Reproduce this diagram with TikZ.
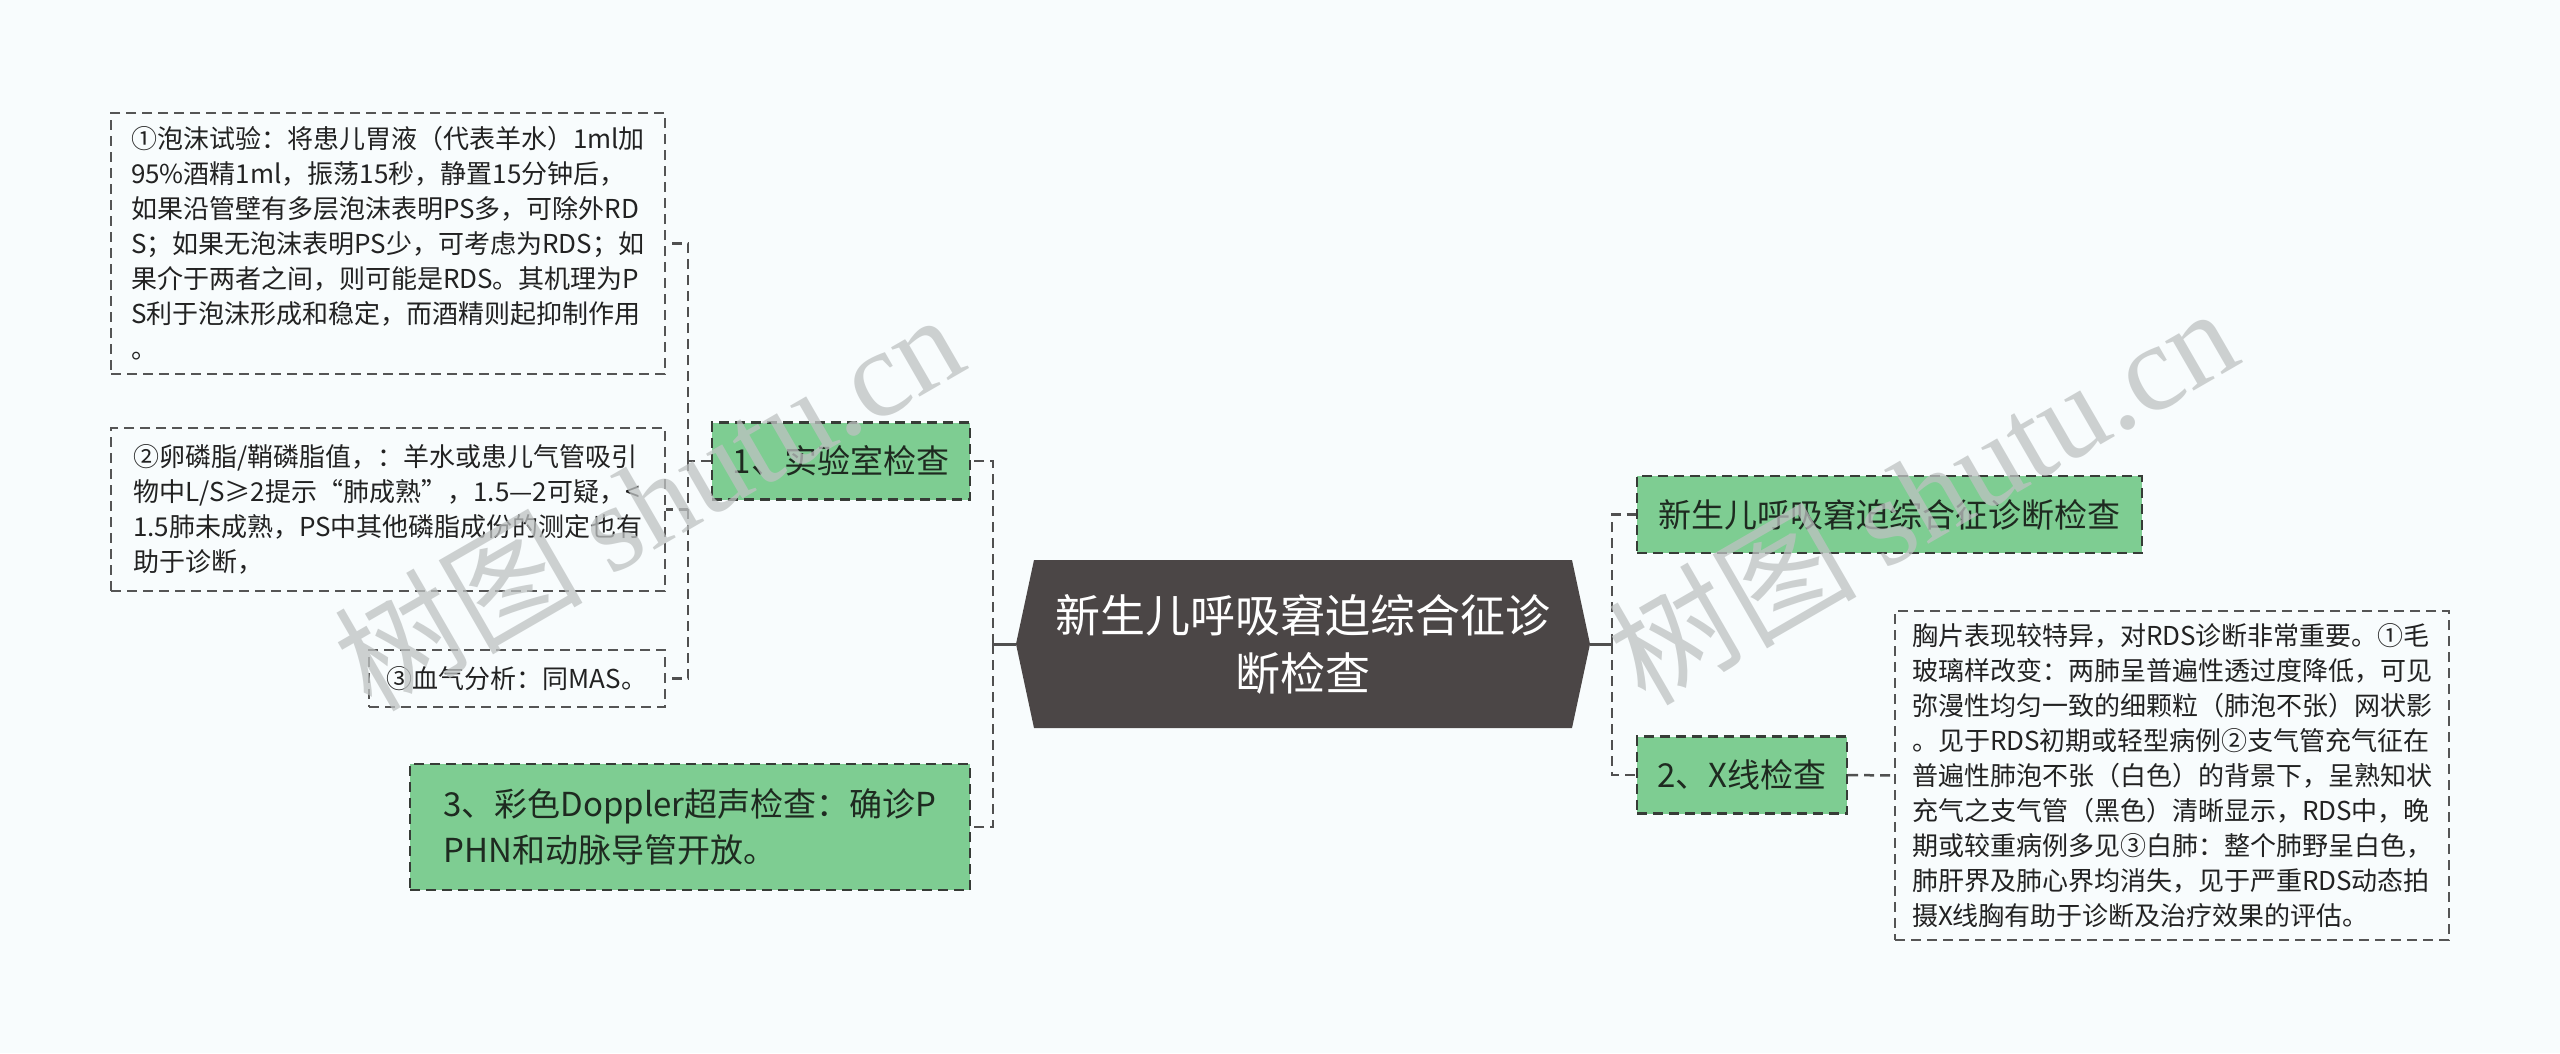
\documentclass[tikz,border=0pt]{standalone}
\usepackage{fontspec}
\setmainfont{Noto Sans CJK SC}
\newfontfamily\wmserif{Liberation Serif}
\usetikzlibrary{calc}
\definecolor{bgc}{RGB}{248,252,253}
\definecolor{gfill}{RGB}{126,205,146}
\definecolor{gborder}{RGB}{55,60,55}
\definecolor{gtext}{RGB}{30,42,32}
\definecolor{dborder}{RGB}{85,85,85}
\definecolor{dtext}{RGB}{34,34,34}
\definecolor{lcolor}{RGB}{80,80,80}
\definecolor{cfill}{RGB}{75,70,70}
\definecolor{wm}{RGB}{190,194,194}
\begin{document}
\begin{tikzpicture}[x=1pt,y=-1pt,
  greennode/.style={draw=gborder, fill=gfill, line width=2.2pt, dash pattern=on 10pt off 6pt,
    inner sep=0pt, minimum height=77pt, font=\fontsize{33}{46}\selectfont, text=gtext, align=left},
  detail/.style={draw=dborder, line width=2pt, dash pattern=on 10pt off 6pt,
    inner sep=0pt, font=\fontsize{26}{35}\selectfont, text=dtext, align=left},
  link/.style={draw=lcolor, line width=2.5pt, dash pattern=on 10pt off 6pt},
  stub/.style={draw=lcolor, line width=3pt},
  centertext/.style={text=white, font=\fontsize{45}{58}\selectfont, align=center, inner sep=0pt},
  wmark/.style={text=wm, opacity=0.75, rotate=30, font=\fontsize{124}{124}\selectfont}
]
\useasboundingbox (0,0) rectangle (2560,1053);
\fill[bgc] (0,0) rectangle (2560,1053);

% central hexagon
\coordinate (cw) at (1016,644);
\coordinate (ce) at (1590,644);
\fill[cfill] (1034,560) -- (1572,560) -- (ce) -- (1572,728) -- (1034,728) -- (cw) -- cycle;
\node[centertext] (c) at (1303,644) {新生儿呼吸窘迫综合征诊\\断检查};

% left branch nodes
\node[greennode, minimum width=258pt] (n1) at (841,461) {1、实验室检查};
\node[greennode, minimum width=560pt, minimum height=126pt] (n3) at (690,827)
  {3、彩色Doppler超声检查：确诊P\\PHN和动脉导管开放。};

\node[detail, minimum width=554pt, minimum height=261pt] (b1) at (388,243.5)
  {①泡沫试验：将患儿胃液（代表羊水）1ml加\\
   95\%酒精1ml，振荡15秒，静置15分钟后，\\
   如果沿管壁有多层泡沫表明PS多，可除外RD\\
   S；如果无泡沫表明PS少，可考虑为RDS；如\\
   果介于两者之间，则可能是RDS。其机理为P\\
   S利于泡沫形成和稳定，而酒精则起抑制作用\\
   。};
\node[detail, minimum width=554pt, minimum height=163pt] (b2) at (388,509.5)
  {②卵磷脂/鞘磷脂值，：羊水或患儿气管吸引\\
   物中L/S≥2提示“肺成熟”，1.5—2可疑，<\\
   1.5肺未成熟，PS中其他磷脂成份的测定也有\\
   助于诊断，};
\node[detail, minimum width=296pt, minimum height=57pt] (b3) at (517,678.5)
  {③血气分析：同MAS。};

% right branch nodes
\node[greennode, minimum width=505pt] (na) at (1889.5,514.5) {新生儿呼吸窘迫综合征诊断检查};
\node[greennode, minimum width=210pt] (n2) at (1742,775) {2、X线检查};
\node[detail, minimum width=554pt, minimum height=329pt] (bx) at (2172,775.5)
  {胸片表现较特异，对RDS诊断非常重要。①毛\\
   玻璃样改变：两肺呈普遍性透过度降低，可见\\
   弥漫性均匀一致的细颗粒（肺泡不张）网状影\\
   。见于RDS初期或轻型病例②支气管充气征在\\
   普遍性肺泡不张（白色）的背景下，呈熟知状\\
   充气之支气管（黑色）清晰显示，RDS中，晚\\
   期或较重病例多见③白肺：整个肺野呈白色，\\
   肺肝界及肺心界均消失，见于严重RDS动态拍\\
   摄X线胸有助于诊断及治疗效果的评估。};

% connectors
\coordinate (hl) at (993,644);
\coordinate (hr) at (1612,644);
\coordinate (h1) at (688,461);
\draw[stub] (cw) -- (hl);
\draw[stub] (ce) -- (hr);
\draw[link] (hl) |- (n1.east);
\draw[link] (hl) |- (n3.east);
\draw[link] (hr) |- (na.west);
\draw[link] (hr) |- (n2.west);
\draw[link] (n1.west) -- (h1);
\draw[link] (h1) |- (b1.east);
\draw[link] (h1) |- (b2.east);
\draw[link] (h1) |- (b3.east);
\draw[link] (n2.east) -- (bx.west);

% watermarks
\node[wmark] (w1) at (648,500) {树图 {\wmserif shutu.cn}};
\node[wmark] (w2) at (1922,494) {树图 {\wmserif shutu.cn}};
\end{tikzpicture}
\end{document}
